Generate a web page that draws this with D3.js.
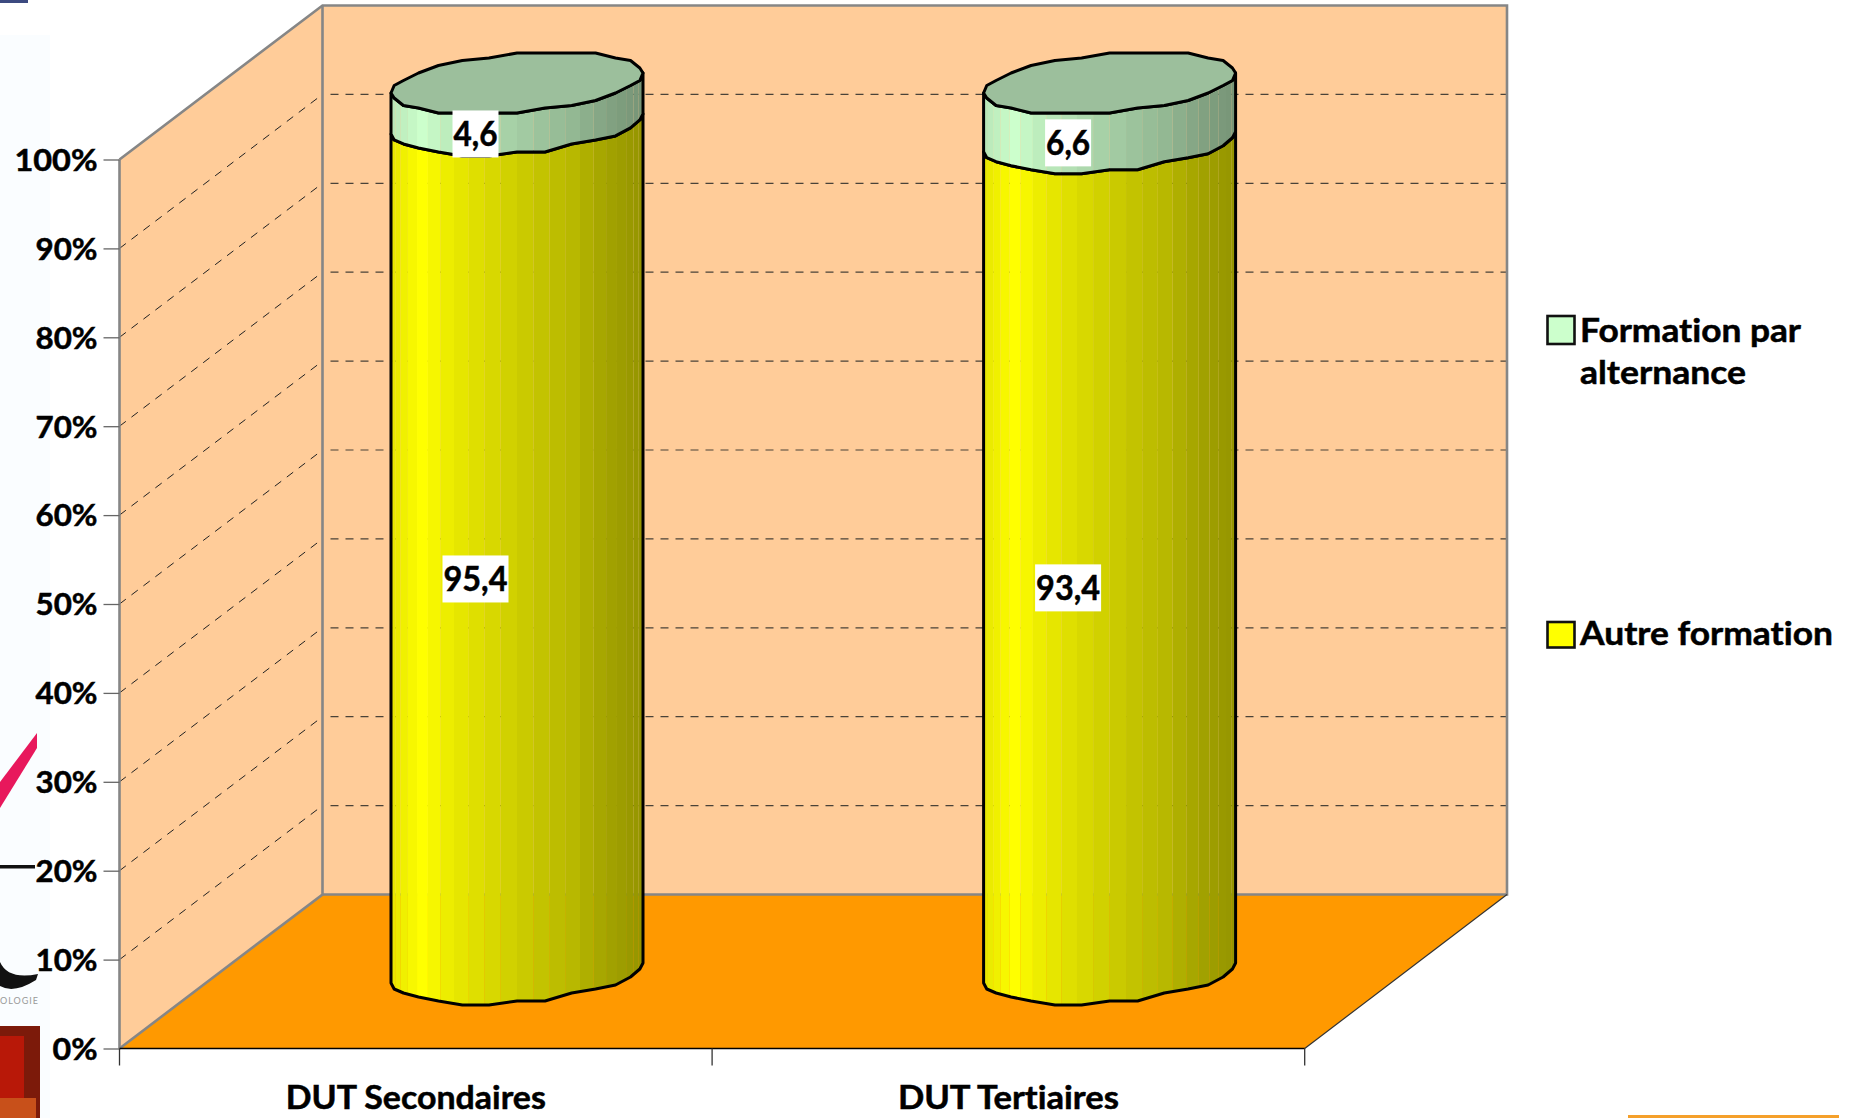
<!DOCTYPE html>
<html><head><meta charset="utf-8">
<script src="https://cdn.jsdelivr.net/npm/d3@7"></script>
<style>
html,body{margin:0;padding:0;background:#fff;overflow:hidden}
text{font-family:Lato,"Open Sans",sans-serif;font-weight:700;fill:#000;font-variant-ligatures:none;stroke:#000;stroke-width:0.5}
</style></head><body>
<svg id="c" width="1858" height="1118"></svg>
<script>
const categories = ["DUT Secondaires", "DUT Tertiaires"];
const autreFormation = [95.4, 93.4];
const alternance = [4.6, 6.6];
const autreLabels = ["95,4", "93,4"];
const alternanceLabels = ["4,6", "6,6"];
const yTicks = [0,10,20,30,40,50,60,70,80,90,100];
const legendNames = [["Formation par","alternance"],["Autre formation"]];

const svg = d3.select("#c");
// decorative fragments of the slide behind the chart
const deco = svg.append("g");
deco.append("rect").attr("x",0).attr("y",35).attr("width",50).attr("height",1083).attr("fill","#fafdff");
deco.append("rect").attr("x",0).attr("y",0).attr("width",28).attr("height",3).attr("fill","#3c4a80");
deco.append("path").attr("d","M0,782L37,733L37,748L0,808Z").attr("fill","#e8185c");
deco.append("rect").attr("x",0).attr("y",865).attr("width",35).attr("height",3.5).attr("fill","#111");
deco.append("path").attr("d","M0,962Q8,980 38,974L36,980Q14,994 0,986Z").attr("fill","#111");
deco.append("text").attr("x",0).attr("y",1004).attr("font-size",9).style("fill","#999").style("stroke","none").style("font-weight",400).attr("textLength",38).text("OLOGIE");
deco.append("rect").attr("x",0).attr("y",1026).attr("width",40).attr("height",92).attr("fill","#7c1a0a");
deco.append("rect").attr("x",0).attr("y",1036).attr("width",24).attr("height",82).attr("fill","#b81808");
deco.append("rect").attr("x",0).attr("y",1098).attr("width",36).attr("height",20).attr("fill","#c8501a");
deco.append("rect").attr("x",1628).attr("y",1115).attr("width",211).attr("height",3).attr("fill","#f5a02a");

// frame
const yFront = d3.scaleLinear().domain([0,100]).range([1048.5,159.5]);
const yBack  = d3.scaleLinear().domain([0,100]).range([894.5,5.5]);
const yBar   = d3.scaleLinear().domain([0,100]).range([973,83]);
const xFront = d3.scaleBand().domain(categories).range([119.5,1304.7]);
const xL=119.5, xR=1304.7, bL=322.5, bR=1507;
const wallFill="#ffcc99", floorFill="#ff9900", frame="#868686";

const poly = p=>"M"+p.map(d=>d.join(",")).join("L")+"Z";
svg.append("path").attr("d",poly([[bL,yBack(100)],[bR,yBack(100)],[bR,yBack(0)],[bL,yBack(0)]])).attr("fill",wallFill);
svg.append("path").attr("d",poly([[xL,yFront(100)],[bL,yBack(100)],[bL,yBack(0)],[xL,yFront(0)]])).attr("fill",wallFill);
svg.append("path").attr("d",poly([[xL,yFront(0)],[bL,yBack(0)],[bR,yBack(0)],[xR,yFront(0)]])).attr("fill",floorFill);

// gridlines
const g = yTicks.slice(1,-1);
svg.append("g").selectAll("line").data(g).join("line")
  .attr("x1",xL).attr("y1",yFront).attr("x2",bL).attr("y2",yBack)
  .attr("stroke","#222").attr("stroke-width",1).attr("stroke-dasharray","8 7");
svg.append("g").selectAll("line").data(g).join("line")
  .attr("x1",bL+8).attr("y1",yBack).attr("x2",bR).attr("y2",yBack)
  .attr("stroke","#4a4238").attr("stroke-width",1.2).attr("stroke-dasharray","8 7");

// frame lines
const fr = svg.append("g").attr("fill","none").attr("stroke",frame).attr("stroke-width",2.6);
fr.append("path").attr("d",`M${xL},${yFront(100)}L${bL},${yBack(100)}L${bR},${yBack(100)}L${bR},${yBack(0)}L${bL},${yBack(0)}`);
fr.append("path").attr("d",`M${bL},${yBack(100)}L${bL},${yBack(0)}L${xL},${yFront(0)}`);
fr.append("path").attr("d",`M${xL},${yFront(100)}L${xL},${yFront(0)}`);
svg.append("path").attr("d",`M${xR},${yFront(0)}L${bR},${yBack(0)}`).attr("stroke","#333").attr("stroke-width",1.2);

// cylinders
const cylW = 252, cylOffset = 271.5;
const a = cylW/2, b = 29, k = -10;
function vert(cx,cy,t,Q){
  let x = cx + a*Math.cos(t), y = cy + b*Math.sin(t) + k*Math.cos(t);
  if(Q){ y = Math.round((y-cy)/Q)*Q + cy; }
  return [x,y];
}
function front(cx,cy,n,Q){ return d3.range(n+1).map(i=>vert(cx,cy,i/n*Math.PI,(i>0&&i<n)?Q:0)); }
function whole(cx,cy,n,Q){ return d3.range(n).map(i=>vert(cx,cy,i/n*2*Math.PI,i%(n/2)!==0?Q:0)); }
const lineGen = d3.line();
const shade = d3.scaleLinear().domain([-1,-0.75,-0.56,-0.25,0.12,0.44,0.75,1]).range([0.9,1,0.93,0.86,0.78,0.72,0.63,0.58]);
const strips = 24;
const defs = svg.append("defs");
function mix(base,f){ const c=d3.rgb(base); return d3.rgb(c.r*f,c.g*f,c.b*f).formatHex(); }

categories.forEach((cat,i)=>{
  const left = xFront(cat)+cylOffset, cx = left+a;
  const gc = svg.append("g");
  const levels = [
    {lo:0, hi:autreFormation[i], base:"#ffff00", qLo:4, qHi:4},
    {lo:autreFormation[i], hi:autreFormation[i]+alternance[i], base:"#ccffcc", qLo:4, qHi:2.5}
  ];
  levels.forEach((s,j)=>{
    const lowF = front(cx,yBar(s.lo),14,s.qLo), upF = front(cx,yBar(s.hi),14,s.qHi);
    const shapeP = lowF.concat(upF.slice().reverse());
    const id = `clip${i}${j}`;
    defs.append("clipPath").attr("id",id).append("path").attr("d",lineGen(shapeP)+"Z");
    const sg = gc.append("g").attr("clip-path",`url(#${id})`);
    d3.range(strips).forEach(n=>{
      const th0 = Math.PI*(1-n/strips), th1 = Math.PI*(1-(n+1)/strips);
      const x0 = cx+a*Math.cos(th0), x1 = cx+a*Math.cos(th1);
      const m = (Math.cos(th0)+Math.cos(th1))/2;
      sg.append("rect").attr("x",x0).attr("width",x1-x0)
        .attr("y",yBar(s.hi)-50).attr("height",yBar(s.lo)-yBar(s.hi)+100)
        .attr("fill",mix(s.base,shade(m)));
    });
    gc.append("path").attr("d",lineGen(shapeP)+"Z").attr("fill","none").attr("stroke","#000").attr("stroke-width",3).attr("stroke-linejoin","round");
  });
  const top = yBar(autreFormation[i]+alternance[i]);
  gc.append("path").attr("d",lineGen(whole(cx,top,28,2.5))+"Z").attr("fill","#9cbf9c").attr("stroke","#000").attr("stroke-width",3).attr("stroke-linejoin","round");

  // data labels
  const lab = (txt,yc,w)=>{
    const h=47, lx = cx-41.5;
    gc.append("rect").attr("x",lx-w/2).attr("y",yc-h/2).attr("width",w).attr("height",h).attr("fill","#fff");
    gc.append("text").attr("x",lx).attr("y",yc+12).attr("text-anchor","middle").attr("font-size",34).attr("textLength",w-2).attr("lengthAdjust","spacingAndGlyphs").text(txt);
  };
  lab(autreLabels[i], (yBar(0)+yBar(autreFormation[i]))/2+30.5, 66);
  lab(alternanceLabels[i], (yBar(autreFormation[i])+yBar(100))/2+30.5, 46);
});

// axes
const yAxis = d3.axisLeft(yFront).tickValues(yTicks).tickFormat(d=>d+"%").tickSize(16).tickPadding(6);
const ga = svg.append("g").attr("transform",`translate(${xL},0)`).call(yAxis);
ga.select(".domain").remove();
ga.selectAll("line").attr("stroke","#666").attr("stroke-width",1.3);
ga.selectAll("text").attr("font-size",30).attr("dy","0.36em").style("font-family","Lato").style("font-weight",700)
  .attr("lengthAdjust","spacingAndGlyphs").attr("textLength",d=>d===100?83:(d===0?45:62));

const xa = svg.append("g");
xa.append("path").attr("d",`M${xL},${yFront(0)}H${xR}`).attr("stroke","#000").attr("stroke-width",1.6);
xa.selectAll("line").data(categories.concat(["end"])).join("line")
  .attr("x1",(d,i)=>xL+i*xFront.step()).attr("x2",(d,i)=>xL+i*xFront.step())
  .attr("y1",yFront(0)).attr("y2",yFront(0)+17).attr("stroke","#333").attr("stroke-width",1.3);
const catLen = [260,221];
xa.selectAll("text").data(categories).join("text")
  .attr("x",d=>xFront(d)+xFront.bandwidth()/2).attr("y",1109).attr("text-anchor","middle")
  .attr("font-size",32).attr("lengthAdjust","spacingAndGlyphs").attr("textLength",(d,i)=>catLen[i]).text(d=>d);

// legend
const lg = svg.append("g");
const lgColor = ["#ccffcc","#ffff00"], lgY=[316,622], lgH=[28,25.5], lgLen=[[221,166],[253]];
legendNames.forEach((lines,i)=>{
  lg.append("rect").attr("x",1547.5).attr("y",lgY[i]).attr("width",27).attr("height",lgH[i]).attr("fill",lgColor[i]).attr("stroke","#111").attr("stroke-width",2.6);
  lines.forEach((t,j)=>{
    lg.append("text").attr("x",1580).attr("y",(i==0?342:645)+j*41.5).attr("font-size",32)
      .attr("lengthAdjust","spacingAndGlyphs").attr("textLength",lgLen[i][j]).text(t);
  });
});
</script></body></html>
